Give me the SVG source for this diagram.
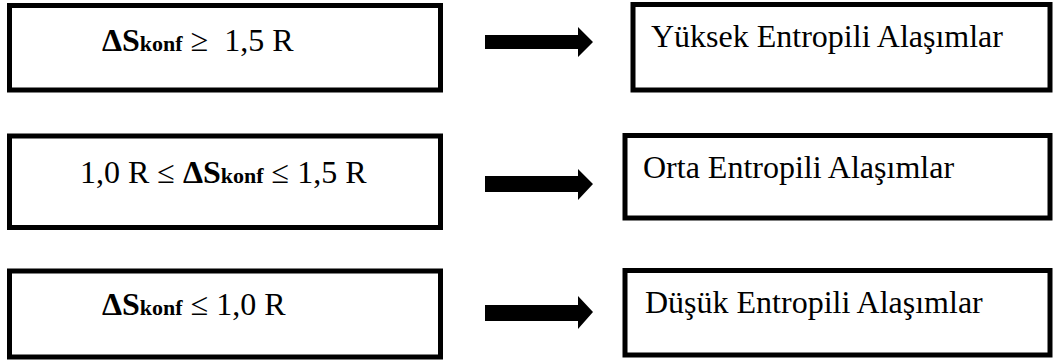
<svg xmlns="http://www.w3.org/2000/svg" width="1054" height="362" viewBox="0 0 1054 362">
<style>
.box{fill:#fff;stroke:#000;stroke-width:5}
.t{font-family:"Liberation Serif","Times New Roman",serif;font-size:32px;fill:#000}
.b{font-weight:bold}
.sub{font-weight:bold;font-size:22px}
.arr{fill:#000}
</style>
<rect width="1054" height="362" fill="#fff"/>
<g id="n-l1"><rect class="box" x="9.5" y="5.5" width="431" height="84.5"/>
<text class="t" x="102" y="51"><tspan class="b">ΔS</tspan><tspan class="sub">konf</tspan> ≥&#160; 1,5 R</text></g>
<g id="n-l2"><rect class="box" x="9.5" y="136" width="431" height="91.5"/>
<text class="t" x="80" y="183">1,0 R ≤ <tspan class="b">ΔS</tspan><tspan class="sub">konf</tspan> ≤ 1,5 R</text></g>
<g id="n-l3"><rect class="box" x="9.5" y="271" width="431" height="86"/>
<text class="t" x="102" y="315"><tspan class="b">ΔS</tspan><tspan class="sub">konf</tspan> ≤ 1,0 R</text></g>
<g id="n-r1"><rect class="box" x="633" y="4.5" width="417" height="85.5"/>
<text class="t" x="651" y="47">Yüksek Entropili Alaşımlar</text></g>
<g id="n-r2"><rect class="box" x="625" y="135.5" width="425" height="82.5"/>
<text class="t" x="643" y="178">Orta Entropili Alaşımlar</text></g>
<g id="n-r3"><rect class="box" x="625" y="270.5" width="425" height="84.5"/>
<text class="t" x="645" y="313">Düşük Entropili Alaşımlar</text></g>
<g id="connectors">
<polygon class="arr" points="485,35 578,35 578,27 593,42 578,57 578,49 485,49"/>
<polygon class="arr" points="485,176 578,176 578,169 593,184 578,200 578,192 485,192"/>
<polygon class="arr" points="485,305 578,305 578,296 593,312 578,329 578,321 485,321"/>
</g>
</svg>
